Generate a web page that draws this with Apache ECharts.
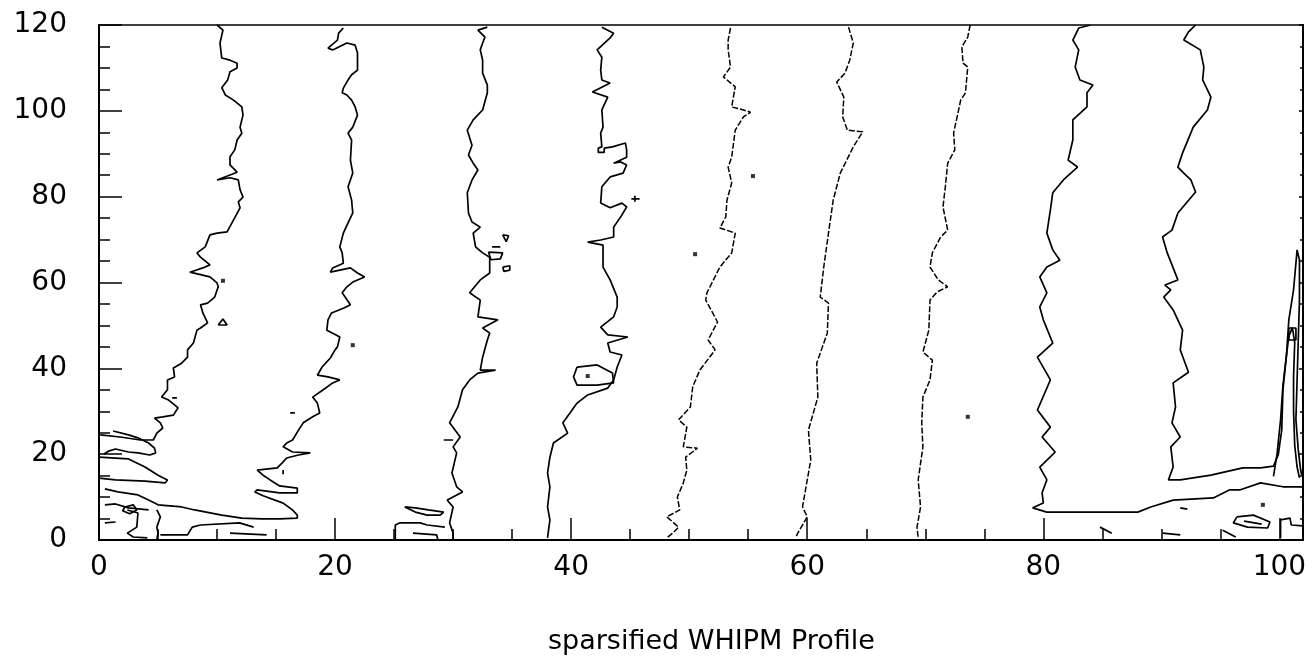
<!DOCTYPE html>
<html>
<head>
<meta charset="utf-8">
<script src="https://cdn.jsdelivr.net/npm/echarts@6/dist/echarts.min.js"></script>
<style>html,body{margin:0;padding:0;background:#fff;}#chart{width:1312px;height:660px;}</style>
</head>
<body>
<div id="chart"></div>
<script>
// ---- axis ticks ----
const xTicks = [0, 20, 40, 60, 80, 100];
const yTicks = [0, 20, 40, 60, 80, 100, 120];
const xLabel = 'sparsified WHIPM Profile';

// ---- contour lines ([x, y] in data units) ----
const c10 = [[10.0,120],[10.5,118.8],[10.25,115.8],[10.4,112.3],[11.1,111.8],[11.7,111.1],[11.7,110.0],[11.1,109.1],[10.9,107.2],[10.4,105.4],[10.7,103.7],[11.4,102.5],[12.1,100.9],[12.2,99.0],[11.95,96.2],[12.1,94.8],[11.7,93.2],[11.5,90.9],[11.1,89.3],[11.1,87.4],[11.7,85.7],[10.0,83.9],[11.1,84.4],[11.8,83.9],[11.95,81.6],[12.2,79.9],[11.8,78.8],[11.95,77.4],[11.4,74.6],[10.85,71.8],[10.0,71.5],[9.4,71.1],[9.0,68.3],[8.3,66.9],[8.6,65.9],[9.4,64.1],[8.8,63.4],[7.7,62.4],[9.4,61.3],[10.0,59.9],[10.1,59.0],[9.8,56.6],[9.2,55.2],[8.6,54.8],[8.8,52.9],[9.2,50.6],[8.6,49.4],[8.3,48.9],[8.0,45.9],[7.5,44.3],[7.5,42.6],[7.0,41.2],[6.3,40.1],[6.4,38.0],[5.8,37.3],[5.8,35.0],[5.3,33.3],[5.9,32.6],[6.4,31.5],[6.7,30.8],[6.3,29.1],[5.4,28.7],[4.7,28.4],[5.2,27.3],[5.4,26.1],[4.9,24.9],[4.6,23.3],[3.5,23.3],[1.8,24.0],[0.1,24.5]];
const c20 = [[20.7,119.3],[20.3,118.1],[20.2,116.5],[19.4,114.6],[19.8,114.2],[21.0,115.8],[21.7,115.3],[21.9,113.5],[21.9,109.5],[21.4,108.4],[21.1,107.2],[20.7,105.3],[20.6,104.2],[21.0,103.7],[21.4,102.5],[21.7,100.9],[21.9,99.0],[21.5,96.2],[21.1,94.8],[21.4,93.2],[21.3,88.5],[21.5,85.5],[21.1,82.3],[21.4,79.2],[21.5,76.2],[21.1,73.9],[20.7,71.5],[20.4,68.3],[20.6,66.9],[20.7,64.5],[19.8,63.4],[19.6,62.4],[21.3,63.4],[21.9,62.2],[22.5,61.3],[21.5,60.1],[21.0,59.0],[20.6,57.6],[21.3,54.8],[20.8,54.1],[19.7,52.9],[19.4,51.3],[19.3,48.9],[19.8,48.2],[20.4,47.3],[20.2,45.0],[20.0,44.3],[19.6,42.4],[18.9,40.3],[18.5,38.4],[19.4,38.0],[20.4,37.3],[19.8,36.6],[19.0,35.0],[18.1,33.3],[18.5,31.9],[18.7,29.6],[18.1,28.7],[17.3,27.3],[16.9,25.6],[16.4,23.3],[15.9,22.6],[15.6,21.7],[16.4,20.5],[17.9,20.3],[16.9,19.8],[15.9,19.1],[15.5,17.9],[15.1,16.8],[13.4,16.3],[13.9,15.1],[14.5,14.0],[15.3,12.6],[16.8,12.1],[16.8,11.0],[15.3,11.0],[13.4,11.7],[13.2,11.2],[13.9,10.3],[15.6,8.6],[16.4,7.0],[16.8,5.8],[16.8,5.1],[15.3,4.9],[13.8,4.9],[12.1,5.1],[10.4,5.8],[8.1,7.0],[7.0,7.7],[5.0,8.2],[4.2,9.3],[3.3,10.5],[1.6,11.2],[0.5,11.9]];
const c30 = [[32.9,119.5],[32.1,118.8],[32.7,117.2],[32.5,115.8],[32.3,114.2],[32.5,111.8],[32.5,108.8],[32.9,106.0],[32.9,104.2],[32.5,100.2],[31.7,97.9],[31.2,95.5],[31.4,93.7],[31.6,92.0],[31.3,89.7],[31.7,87.8],[32.1,86.2],[31.6,83.9],[31.2,80.9],[31.3,76.2],[31.6,74.1],[32.3,72.9],[31.7,71.5],[31.9,68.3],[32.5,66.9],[33.1,65.9],[33.1,62.2],[32.3,60.6],[31.4,57.6],[32.3,55.9],[32.1,52.0],[33.8,51.3],[32.5,49.4],[33.1,48.2],[32.9,46.6],[32.5,42.6],[32.3,39.6],[33.6,39.6],[32.1,38.9],[31.4,37.3],[30.8,35.0],[30.4,31.0],[29.7,27.3],[30.6,24.0],[30.0,21.7],[30.3,20.3],[29.9,15.6],[30.3,12.4],[30.8,11.2],[29.5,9.3],[30.0,7.7],[29.7,4.0],[30.0,1.6],[30.0,0]];
const c40 = [[42.6,119.5],[43.6,118.1],[43.3,117.0],[42.2,114.2],[42.6,112.5],[42.5,109.5],[42.6,107.2],[43.3,106.5],[41.8,104.4],[43.1,103.2],[42.6,100.2],[42.7,96.2],[42.5,94.8],[42.6,91.6],[42.3,91.3],[42.3,90.3],[42.8,90.3],[42.8,91.3],[43.5,91.6],[44.6,92.5],[44.7,90.9],[44.7,89.2],[43.6,87.8],[44.2,88.1],[44.7,87.4],[44.4,85.5],[43.3,84.6],[42.6,82.3],[42.5,78.5],[43.3,77.4],[44.3,78.5],[44.7,77.6],[44.2,75.3],[43.6,72.9],[43.6,70.6],[42.5,69.9],[41.4,69.4],[42.7,68.7],[42.7,63.6],[43.3,60.6],[43.9,56.6],[43.9,54.3],[43.6,52.0],[42.5,49.6],[43.1,47.8],[44.8,47.3],[43.1,45.9],[43.3,43.8],[44.3,43.1],[43.9,40.3],[43.6,37.3],[43.1,35.4],[41.4,33.8],[40.5,31.9],[39.9,29.6],[39.3,27.3],[39.7,24.9],[38.5,22.6],[38.2,19.3],[38.0,15.6],[38.2,12.4],[38.0,7.7],[38.2,4.7],[38.0,0.5]];
const c50 = [[53.5,119.3],[53.3,116.5],[53.3,114.2],[53.5,110.2],[52.9,107.9],[53.9,105.6],[53.6,100.9],[54.6,100.2],[55.2,99.7],[54.6,98.6],[53.9,95.5],[53.6,89.2],[53.3,86.9],[53.6,83.2],[53.2,79.2],[53.1,75.3],[52.6,72.7],[53.9,71.5],[53.6,66.9],[52.6,63.6],[51.5,57.6],[51.4,55.9],[52.4,50.8],[51.6,46.6],[52.2,44.3],[50.9,39.6],[50.3,35.7],[50.1,31.0],[49.1,28.0],[49.8,26.3],[49.5,21.7],[50.7,21.4],[49.7,19.3],[49.8,16.3],[49.5,13.3],[49.0,10.0],[49.2,7.0],[48.1,5.4],[49.1,3.0],[48.6,1.6],[48.1,0.5]];
const c60 = [[63.5,119.5],[63.9,115.8],[63.6,111.8],[63.2,108.8],[62.5,106.7],[63.1,103.2],[63.0,98.6],[63.4,95.5],[64.7,95.1],[63.9,91.6],[62.8,85.5],[62.2,79.2],[61.8,71.5],[61.4,63.6],[61.1,56.6],[61.8,55.2],[61.7,48.2],[60.8,41.2],[60.9,33.3],[60.1,25.6],[60.3,18.6],[60.0,14.0],[59.6,7.7],[60.0,5.4],[59.2,1.6],[59.0,0.5]];
const c70 = [[73.8,120],[73.6,117.2],[73.1,114.9],[73.2,111.1],[73.6,110.2],[73.4,104.2],[73.0,102.5],[72.7,98.6],[72.4,94.8],[72.5,90.9],[71.9,87.8],[71.7,82.3],[71.5,77.6],[71.9,72.2],[71.3,70.6],[70.6,66.9],[70.4,63.6],[71.1,60.6],[71.9,59.0],[71.0,57.8],[70.4,55.9],[70.3,48.9],[69.8,43.8],[70.6,41.9],[70.4,37.3],[69.8,33.3],[69.7,27.3],[69.8,21.7],[69.4,14.0],[69.6,7.7],[69.3,3.0],[69.4,0.5]];
const c80 = [[84.0,120],[83.0,119.3],[82.5,116.5],[83.0,114.2],[82.7,110.2],[83.1,107.2],[84.2,106.0],[83.7,104.2],[83.7,100.9],[82.5,97.9],[82.5,93.2],[82.1,88.5],[82.9,86.9],[81.7,83.9],[80.8,80.9],[80.6,76.9],[80.3,71.5],[80.8,67.6],[81.4,65.2],[80.3,63.6],[79.7,61.3],[80.3,57.6],[79.7,54.3],[80.0,51.3],[80.8,45.9],[79.5,42.6],[80.6,37.3],[79.5,30.3],[80.6,26.3],[79.9,24.0],[81.0,20.5],[79.7,17.0],[80.3,14.0],[79.9,11.0],[80.0,8.6],[79.1,7.5],[80.3,6.5],[84.0,6.5],[88.0,6.5],[89.1,7.7],[91.0,9.3],[94.4,9.8],[95.8,11.7],[96.7,11.7],[98.4,13.3],[100.3,12.4],[101.6,12.4],[102.0,12.4]];
const c90 = [[92.9,120],[92.3,118.4],[91.9,116.5],[93.3,114.2],[93.6,110.2],[93.5,107.2],[94.2,103.2],[93.9,100.2],[92.7,96.2],[91.8,90.2],[91.4,86.9],[91.9,85.5],[92.5,83.9],[92.9,81.1],[91.4,76.2],[90.9,72.2],[90.1,70.6],[90.5,66.9],[91.4,60.6],[90.3,59.4],[90.8,58.3],[90.2,56.6],[91.0,53.6],[91.8,48.9],[91.6,44.3],[92.3,39.1],[91.0,36.6],[91.2,31.0],[90.9,27.3],[91.6,24.0],[90.8,21.7],[91.0,17.0],[90.6,14.0],[91.6,14.0],[94.2,15.1],[96.9,16.8],[98.4,16.8],[99.5,17.2],[99.9,19.8],[100.2,25.6],[100.3,35.0],[100.6,43.1],[100.8,51.3],[101.2,58.3],[101.5,67.6],[101.7,65.2],[101.7,55.9],[101.6,46.6],[101.5,37.3],[101.4,28.0],[101.6,21.0],[101.8,16.3],[101.9,15.1]];
const spikeInner = [[99.5,14.8],[99.8,20.0],[100.1,28.0],[100.3,36.0],[100.6,43.0],[100.8,47.5],[101.1,49.5],[101.3,46.0],[101.2,38.0],[101.2,30.0],[101.3,22.0],[101.5,17.0],[101.7,14.5]];
const spikeBox = [[100.8,49.4],[101.4,49.4],[101.4,46.6],[100.8,46.6],[100.8,49.4]];
const lobeUpper = [[1.2,25.4],[2.5,24.5],[3.3,23.8],[4.2,22.6],[4.7,21.4],[4.8,20.3],[4.3,19.8],[3.3,20.3],[2.5,20.5],[1.4,21.2],[0.8,20.7],[0.4,20.0]];
const lobeLower = [[0,19.3],[1.4,19.1],[2.5,18.9],[3.9,17.0],[5.0,15.1],[5.8,14.0],[5.6,13.3],[3.9,13.7],[1.4,14.0],[0,14.4]];

// ---- small closed loops and fragments ----
const loopC1 = [[10.1,50.1],[10.5,51.5],[10.85,50.1],[10.1,50.1]];
const loopC3a = [[34.2,71.1],[34.7,70.9],[34.5,69.5],[34.2,71.1]];
const loopC3c = [[33.0,67.1],[34.2,66.9],[34.0,65.5],[33.2,65.3],[33.0,67.1]];
const loopC3d = [[34.2,63.6],[34.8,63.9],[34.8,62.9],[34.3,62.6],[34.2,63.6]];
const eyeC4 = [[40.5,40.3],[42.2,40.8],[43.5,38.9],[43.6,36.6],[42.2,36.1],[40.5,36.1],[40.2,38.0],[40.5,40.3]];
const fragA = [[0.5,8.2],[1.4,8.4],[2.5,7.5],[4.2,7.0]];
const fragB = [[2.2,7.7],[2.9,8.2],[3.2,7.0],[2.6,6.1],[2.0,6.8],[2.2,7.7]];
const fragC = [[0.5,4.0],[1.4,4.2]];
const fragD = [[2.4,7.0],[3.3,6.3],[3.2,3.0],[2.4,1.6],[2.9,0.7],[4.1,0.5]];
const fragE = [[4.9,7.0],[5.2,5.4],[4.9,3.0],[5.0,1.6],[4.9,0]];
const fragF = [[5.2,1.2],[7.5,1.2],[7.9,3.0],[8.6,3.5],[11.9,4.0],[13.1,3.0]];
const fragG = [[11.1,1.6],[14.2,1.2]];
const fragH = [[25.9,7.7],[26.8,7.5],[27.9,7.0],[29.2,6.5],[28.9,5.8],[27.8,5.8],[26.8,6.5],[25.9,7.7]];
const fragI = [[25.1,0],[25.1,3.5],[25.5,4.0],[27.2,4.0],[27.8,3.5],[29.3,3.0]];
const fragJ = [[26.6,1.6],[28.6,1.2],[28.7,0.2]];
const fragK = [[96.4,5.4],[97.8,5.8],[99.2,4.2],[99.0,2.8],[97.3,3.0],[96.1,4.0],[96.4,5.4]];
const fragL = [[97.0,4.4],[98.5,3.7]];
const fragM = [[100.1,0.5],[100.1,4.7],[100.9,5.1],[101.0,3.5],[102.0,3.3]];
const fragN = [[84.8,3.0],[85.8,1.6]];
const fragO = [[90.1,1.6],[91.6,1.2]];
const fragP = [[95.2,2.3],[96.3,0.7]];
const fragQ = [[91.6,7.5],[92.2,7.2]];
const dashes = [
  [[16.2,29.6],[16.6,29.6]], [[6.2,33.1],[6.6,33.1]], [[29.2,23.3],[30.0,23.3]],
  [[45.1,79.5],[45.8,79.5]], [[45.4,80.2],[45.4,78.8]], [[33.3,68.3],[34.0,68.3]],
  [[15.6,16.3],[15.6,15.3]]
];
const dots = [[10.5,60.4],[21.5,45.4],[41.4,38.2],[55.4,84.8],[50.5,66.6],[73.6,28.7],[98.6,8.2]];

const solidLines = [c10, c20, c30, c40, c80, c90, spikeInner, spikeBox, lobeUpper, lobeLower,
  loopC1, loopC3a, loopC3c, loopC3d, eyeC4,
  fragA, fragB, fragC, fragD, fragE, fragF, fragG, fragH, fragI, fragJ,
  fragK, fragL, fragM, fragN, fragO, fragP, fragQ].concat(dashes);
const brokenLines = [c50, c60, c70];

const series = [];
solidLines.forEach(d => series.push({
  type: 'line', data: d, symbol: 'none', showSymbol: false, silent: true, clip: true,
  lineStyle: { color: '#000', width: 1.7 }, z: 3
}));
brokenLines.forEach(d => series.push({
  type: 'line', data: d, symbol: 'none', showSymbol: false, silent: true, clip: true,
  lineStyle: { color: '#000', width: 1.5, type: [6, 2] }, z: 3
}));
series.push({
  type: 'scatter', data: dots, symbol: 'rect', symbolSize: 4, silent: true,
  itemStyle: { color: '#000' }, z: 4
});

const labelFont = { fontFamily: 'DejaVu Sans', fontSize: 28, color: '#000' };

const chart = echarts.init(document.getElementById('chart'), null, { renderer: 'canvas' });
chart.setOption({
  animation: false,
  backgroundColor: '#fff',
  grid: { left: 99, right: 9, top: 25, bottom: 120, show: true, borderColor: '#000', borderWidth: 1.5, containLabel: false },
  xAxis: [{
    type: 'value', min: 0, max: 102, interval: 20,
    axisLine: { show: true, lineStyle: { color: '#000', width: 2 } },
    axisTick: { show: true, inside: true, length: 22, lineStyle: { color: '#000', width: 1.5 } },
    minorTick: { show: true, splitNumber: 4, length: 11, lineStyle: { color: '#000', width: 1.5 } },
    splitLine: { show: false },
    axisLabel: Object.assign({ margin: 14, showMaxLabel: false,
      formatter: v => xTicks.indexOf(v) >= 0 ? String(v) : '' }, labelFont)
  }],
  yAxis: [{
    type: 'value', min: 0, max: 120, interval: 20, position: 'left',
    axisLine: { show: true, lineStyle: { color: '#000', width: 2 } },
    axisTick: { show: true, inside: true, length: 23, lineStyle: { color: '#000', width: 1.5 } },
    minorTick: { show: true, splitNumber: 4, length: 11, lineStyle: { color: '#000', width: 1.5 } },
    splitLine: { show: false },
    axisLabel: Object.assign({ margin: 32,
      formatter: v => yTicks.indexOf(v) >= 0 ? String(v) : '' }, labelFont)
  }, {
    type: 'value', min: 0, max: 120, interval: 20, position: 'right',
    axisLine: { show: true, lineStyle: { color: '#000', width: 2 } },
    axisTick: { show: true, inside: true, length: 4, lineStyle: { color: '#000', width: 1.5 } },
    minorTick: { show: true, splitNumber: 4, length: 3, lineStyle: { color: '#000', width: 1.5 } },
    splitLine: { show: false },
    axisLabel: { show: false }
  }],
  graphic: [{
    type: 'text', left: 548, top: 628,
    style: { text: xLabel, font: '27px "DejaVu Sans"', fill: '#000' }
  }],
  series: series
});
</script>
</body>
</html>
